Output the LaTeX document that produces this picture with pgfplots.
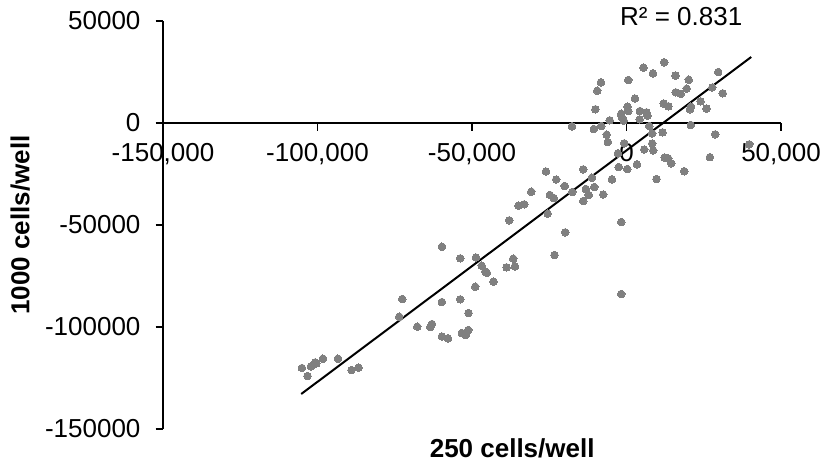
\documentclass[border=0pt]{standalone}
\usepackage{fontspec}
\setmainfont{Liberation Sans}
\usepackage{pgfplots}
\pgfplotsset{compat=1.18}
\definecolor{dotgray}{HTML}{808080}
\begin{document}
\begin{tikzpicture}
\begin{axis}[
  scale only axis, width=309pt, height=204pt,
  xmin=-150000, xmax=50000, ymin=-150000, ymax=50000,
  axis x line*=middle, axis y line*=left,
  axis line style={line width=0.75pt},
  hide obscured x ticks=false, hide obscured y ticks=false,
  xtick={-150000,-100000,-50000,0,50000},
  ytick={-150000,-100000,-50000,0,50000},
  minor tick num=0,
  tick align=outside, major tick length=3.75pt,
  tick style={black, line width=0.75pt},
  scaled ticks=false,
  /pgf/number format/assume math mode=true,
  tick label style={font=\fontsize{13}{15}\selectfont},
  xticklabel style={/pgf/number format/fixed, /pgf/number format/1000 sep={,}, yshift=-3pt},
  yticklabel style={/pgf/number format/fixed, /pgf/number format/1000 sep={}, xshift=-4pt},
  every axis x label/.style={at={(axis description cs:0.565,-0.047)}, anchor=center,
    font=\fontsize{13}{15}\selectfont\bfseries},
  every axis y label/.style={at={(axis description cs:-0.231,0.5)}, anchor=center, rotate=90,
    font=\fontsize{13}{15}\selectfont\bfseries},
  xlabel={250 cells/well},
  ylabel={1000 cells/well},
  clip=false,
]
\addplot[only marks, mark=*, mark size=1.9pt,
  mark options={fill=dotgray, draw=dotgray, line width=0pt}] coordinates {
(-105040,-120100) (-103230,-124020) (-102130,-119270) (-100740,-117310) (-100410,-117890)
(-98240,-115540) (-93390,-115540) (-88990,-121080) (-86720,-119950)
(-73550,-94950) (-72580,-86280) (-67730,-99850) (-63520,-100000) (-62970,-98530)
(-59740,-60640) (-59740,-87750) (-59740,-104660) (-57800,-105540)
(-53810,-66320) (-53810,-86420) (-53270,-102940) (-52030,-103920) (-51230,-101470)
(-51130,-93140) (-48960,-80250) (-48730,-65930) (-46860,-69950) (-45720,-72800)
(-45170,-73530) (-43040,-77800) (-38830,-70740) (-37960,-47700) (-36660,-66520)
(-36110,-70250) (-34950,-40540) (-33100,-39850) (-30840,-33680) (-26080,-23770)
(-25500,-44460) (-24790,-35290) (-23560,-36770) (-23300,-64710) (-22750,-27700)
(-20000,-30880) (-19840,-53580) (-17570,-33820) (-1720,-48530) (-1720,-83820)
(-13140,-32350) (-10450,-31370) (-12230,-35290) (-7540,-35050) (-14010,-38240)
(-14010,-22700) (-4720,-27600) (-11200,-26810) (9710,-27450) (-2520,-21570)
(230,-22550) (3370,-20250) (-2780,-14850) (12360,-16910) (13490,-17400)
(14460,-19760) (5730,-12990) (8640,-13480) (8320,-10050) (-740,-9950)
(-6020,-9310) (-6410,-5740) (8320,-5150) (11650,-4560) (7350,-1470)
(-17670,-1620) (-10550,-2940) (-8190,-1470) (-5440,1320) (-910,1230)
(4270,1810) (-1720,4560) (-1550,3090) (320,7990) (550,5880)
(4340,5880) (6470,5250) (6800,3580) (2720,12010) (-10060,6760)
(12040,9560) (13560,8190) (23950,10640) (20840,7990) (20550,6760)
(25890,7110) (20840,-980) (28700,-5540) (39710,-10440) (26990,-16760)
(18670,-23630) (12200,29760) (5470,27110) (8540,24360) (15860,23280)
(20130,21180) (-8280,19950) (550,21080) (29670,25000) (-9480,15830)
(19480,16810) (27730,17400) (31130,14560) (15920,15050) (17540,14310)
};
\addplot[black, line width=1pt] coordinates {(-105270,-132840) (40350,32350)};
\node[font=\fontsize{13}{15}\selectfont] at (axis cs:17700,52200) {R² = 0.831};
\coordinate (bbsw) at (rel axis cs:-0.2638,-0.098);
\coordinate (bbne) at (rel axis cs:1.0744,1.0515);
\end{axis}
\pgfresetboundingbox
\path[use as bounding box] (bbsw) rectangle (bbne);
\end{tikzpicture}
\end{document}
